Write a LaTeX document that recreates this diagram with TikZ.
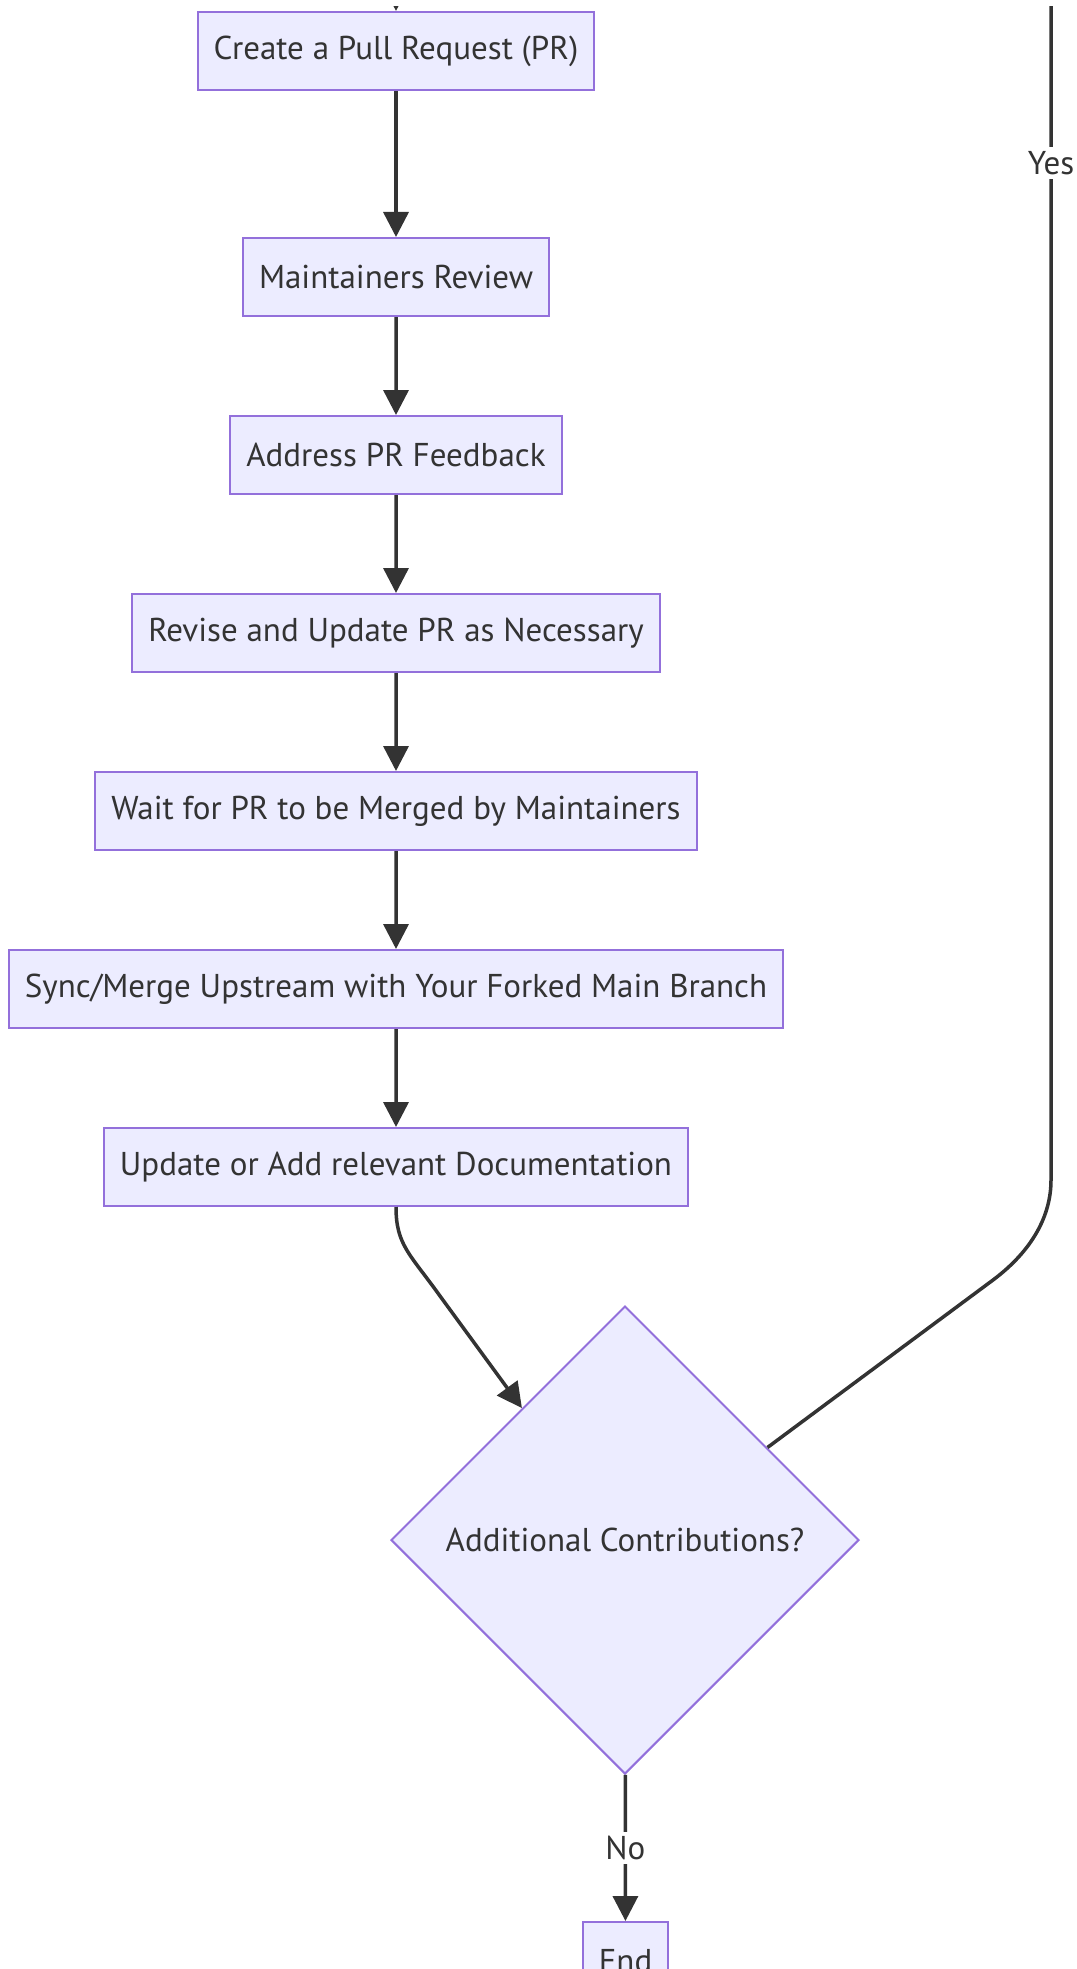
\documentclass[tikz,border=0pt]{standalone}
\usepackage{fontspec}
\setmainfont{PT Sans}
\usetikzlibrary{arrows.meta,shapes.geometric}
\definecolor{nodefill}{HTML}{ECECFF}
\definecolor{nodeline}{HTML}{9370DB}
\definecolor{darkline}{HTML}{333333}

\begin{document}
\begin{tikzpicture}[grow=down, x=0.5pt, y=-0.5pt] % flowchart, 1px = 0.5pt
\tikzstyle{mybox} = [rectangle, draw=nodeline, line width=1pt, fill=nodefill, text=darkline, minimum height=39pt, inner xsep=8pt, font=\fontsize{16.5pt}{20pt}\selectfont] % process step style
\tikzstyle{mydiamond} = [diamond, aspect=1, draw=nodeline, line width=1pt, fill=nodefill, text=darkline, minimum width=234pt, minimum height=234pt, inner sep=0pt, font=\fontsize{16.5pt}{20pt}\selectfont] % decision style
\tikzstyle{myarrow} = [draw=darkline, line width=1.75pt, -{Triangle[length=12.5pt,width=12.5pt]}] % arrow
\tikzstyle{mylabel} = [fill=white, text=darkline, inner sep=2pt, font=\fontsize{16.5pt}{20pt}\selectfont] % edge label
\tikzstyle{level 1}=[level distance=113pt] % first step is further down
\tikzstyle{level 2}=[level distance=89pt]
\tikzstyle{level 3}=[level distance=89pt]
\tikzstyle{level 4}=[level distance=89pt]
\tikzstyle{level 5}=[level distance=89pt]
\tikzstyle{level 6}=[level distance=89pt]
\tikzstyle{edge from parent}=[myarrow]

\path[use as bounding box] (0,0) rectangle (1076,1969);
\clip (0,7) rectangle (1076,1969);

\node[mybox] (pr) at (396,51) {Create a Pull Request (PR)}
    child { node[mybox] (review) {Maintainers Review}
      child { node[mybox] (feedback) {Address PR Feedback}
        child { node[mybox] (revise) {Revise and Update PR as Necessary}
          child { node[mybox] (wait) {Wait for PR to be Merged by Maintainers}
            child { node[mybox] (sync) {Sync/Merge Upstream with Your Forked Main Branch}
              child { node[mybox] (docs) {Update or Add relevant Documentation} }}}}}};

\node[mydiamond] (more) at (625,1540) {Additional Contributions?};
\node[mybox] (end) at (625.5,1961) {End};

% ends outside the picture
\coordinate (prin) at (396,-20);
\coordinate (yestop) at (1051,-20);

\draw[myarrow] (prin) -- (pr);
\draw[myarrow] (docs.south) .. controls (396,1245) and (410,1254) .. (440,1296) -- (more.128);
\draw[draw=darkline, line width=1.75pt] (more.33) -- (993,1280) .. controls (1033,1250) and (1051,1215) .. (1051,1180) -- node[mylabel, pos=0.8475] {Yes} (yestop);
\draw[myarrow] (more) -- node[mylabel] {No} (end);
\end{tikzpicture}
\end{document}
